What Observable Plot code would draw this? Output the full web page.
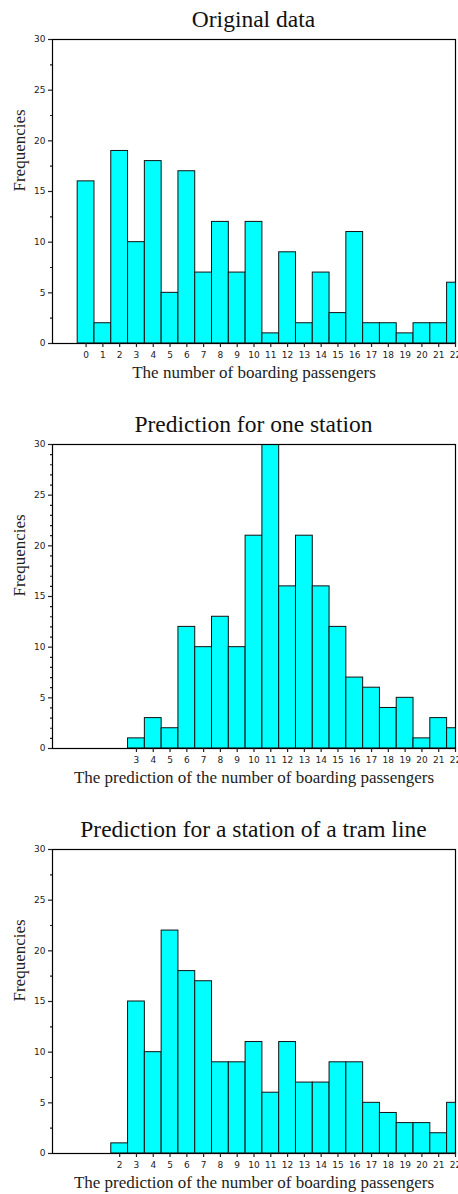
<!DOCTYPE html>
<html>
<head>
<meta charset="utf-8">
<script src="https://cdn.jsdelivr.net/npm/d3@7"></script>
<script src="https://cdn.jsdelivr.net/npm/@observablehq/plot@0.6"></script>
<style>
  html, body { margin: 0; padding: 0; background: #fff; }
  body { width: 458px; }
  .block { width: 458px; height: 405px; }
  .title {
    box-sizing: border-box; height: 33px; padding-top: 4px; line-height: 30px;
    margin-left: 52px; width: 403px; text-align: center;
    font-family: "Liberation Serif", serif; font-size: 23.5px; color: #111; white-space: nowrap;
  }
  svg { display: block; }
</style>
</head>
<body>
<div id="root"></div>
<script>
// ---- Data ----
const titles = ["Original data", "Prediction for one station", "Prediction for a station of a tram line"];
const xLabels = ["The number of boarding passengers",
                 "The prediction of the number of boarding passengers",
                 "The prediction of the number of boarding passengers"];
const yLabel = "Frequencies";

const values1 = [0,1,2,3,4,5,6,7,8,9,10,11,12,13,14,15,16,17,18,19,20,21,22];
const counts1 = [16,2,19,10,18,5,17,7,12,7,12,1,9,2,7,3,11,2,2,1,2,2,6];

const values2 = [3,4,5,6,7,8,9,10,11,12,13,14,15,16,17,18,19,20,21,22];
const counts2 = [1,3,2,12,10,13,10,21,30,16,21,16,12,7,6,4,5,1,3,2];

const values3 = [2,3,4,5,6,7,8,9,10,11,12,13,14,15,16,17,18,19,20,21,22];
const counts3 = [1,15,10,22,18,17,9,9,11,6,11,7,7,9,9,5,4,3,3,2,5];

const yMajorTicks = [0,5,10,15,20,25,30];
const yMinorHalf = [2.5,7.5,12.5,17.5,22.5,27.5];
const yMinorUnit = [1,2,3,4,6,7,8,9,11,12,13,14,16,17,18,19,21,22,23,24,26,27,28,29];

const charts = [
  {title: titles[0], xLabel: xLabels[0], values: values1, counts: counts1, minor: yMinorHalf},
  {title: titles[1], xLabel: xLabels[1], values: values2, counts: counts2, minor: yMinorUnit},
  {title: titles[2], xLabel: xLabels[2], values: values3, counts: counts3, minor: yMinorHalf}
];

const root = document.getElementById("root");
for (const c of charts) {
  const data = c.values.map((v, i) => ({v, n: c.counts[i]}));
  const block = document.createElement("div");
  block.className = "block";
  const t = document.createElement("div");
  t.className = "title";
  t.textContent = c.title;
  block.appendChild(t);

  const plot = Plot.plot({
    width: 458,
    height: 372,
    marginTop: 6,
    marginBottom: 62,
    marginLeft: 52,
    marginRight: 3,
    style: {fontFamily: "DejaVu Sans", fontSize: "9px", color: "#222", background: "#fff"},
    x: {type: "linear", domain: [-2, 22]},
    y: {domain: [0, 30]},
    marks: [
      Plot.rectY(data, {
        x1: d => d.v - 0.5, x2: d => d.v + 0.5, y: "n",
        fill: "#00ffff", stroke: "#111", strokeWidth: 1, clip: true
      }),
      Plot.frame({stroke: "#000", strokeWidth: 1.2}),
      Plot.axisY({ticks: yMajorTicks, tickSize: 4, tickPadding: 3, label: null, strokeWidth: 1.2}),
      Plot.axisY({ticks: c.minor, tickSize: 2, tickFormat: () => "", label: null, strokeWidth: 1.2}),
      Plot.axisX({ticks: c.values, tickSize: 4, tickPadding: 4, label: null, tickFormat: d => String(d), strokeWidth: 1.2}),
      Plot.text([yLabel], {
        text: d => d, frameAnchor: "left", rotate: -90, dx: -33,
        fontSize: 17, fontFamily: "Liberation Serif", fill: "#222"
      }),
      Plot.text([c.xLabel], {
        text: d => d, frameAnchor: "bottom", dy: 34,
        fontSize: 17, fontFamily: "Liberation Serif", fill: "#222"
      })
    ]
  });
  block.appendChild(plot);
  root.appendChild(block);
}
</script>
</body>
</html>
